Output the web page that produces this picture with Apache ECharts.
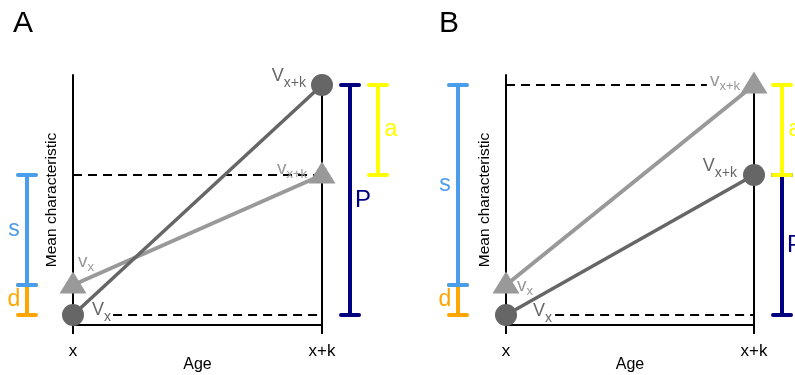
<!DOCTYPE html>
<html><head><meta charset="utf-8">
<script src="https://cdn.jsdelivr.net/npm/echarts@6/dist/echarts.min.js"></script>
<style>html,body{margin:0;padding:0;background:#fff}#c{width:795px;height:375px}</style>
</head><body><div id="c"></div>
<script>
// ---- data ----
const panelNames = ['A', 'B'];
const ages = [0, 1];
const tickLabels = ['x', 'x+k'];
// mean characteristic (arbitrary units) at ages x and x+k
const darkA = [1, 24];   // V  (dark circles)   panel A
const lightA = [4, 15];  // v  (light triangles) panel A
const darkB = [1, 15];   // V  panel B
const lightB = [4, 24];  // v  panel B
const xTitle = 'Age';
const yTitle = 'Mean characteristic';

// ---- layout / style ----
const FONT = 'Liberation Sans, Arial, Helvetica, sans-serif';
const DARK = '#666666', LIGHT = '#999999';
const COL = {s: '#4A9DEB', d: '#FFA500', P: '#000080', a: '#FFFF00'};
const layout = [
  { grid: {left: 73, top: 75, width: 249, height: 250, outerBoundsMode: 'none', containLabel: false}, title: {left: 8, top: 4},
    barX: {s: -0.185, d: -0.185, P: 1.112, a: 1.225},
    dashUp: [0, 0.972], dashLo: [0.161, 0.984],
    lab: { d0: ['right', [3, -5]], d1: ['left', [0, -9]], l0: ['right', [-13.5, -21]], l1: ['left', [3.5, -4]] } },
  { grid: {left: 506, top: 75, width: 248, height: 250, outerBoundsMode: 'none', containLabel: false}, title: {left: 434, top: 4},
    barX: {s: -0.194, d: -0.194, P: 1.113, a: 1.113},
    dashUp: [0, 0.81], dashLo: [0.198, 1.0],
    lab: { d0: ['right', [11, -4]], d1: ['left', [-1, -8.5]], l0: ['right', [-7.5, 3]], l1: ['left', [4.5, -2]] } }
];
const panelData = [{dark: darkA, light: lightA}, {dark: darkB, light: lightB}];

const richDark = {
  V: {fontSize: 18, lineHeight: 18, verticalAlign: 'top', color: DARK, fontFamily: FONT},
  s: {fontSize: 14, lineHeight: 14, padding: [9, 0, 0, 0], verticalAlign: 'top', color: DARK, fontFamily: FONT}
};
const richLight = {
  V: {fontSize: 19, lineHeight: 18, verticalAlign: 'top', color: LIGHT, fontFamily: FONT},
  s: {fontSize: 13, lineHeight: 12, padding: [8, 0, 0, 0], verticalAlign: 'top', color: LIGHT, fontFamily: FONT}
};

const grids = [], xAxes = [], yAxes = [], series = [], titles = [];
panelData.forEach((pd, i) => {
  const L = layout[i];
  const dark = pd.dark, light = pd.light;
  grids.push(L.grid);
  titles.push({text: panelNames[i], left: L.title.left, top: L.title.top,
    textStyle: {fontSize: 30, fontWeight: 'normal', color: '#000', fontFamily: FONT}});
  xAxes.push({gridIndex: i, type: 'value', min: 0, max: 1, interval: 1,
    axisLine: {show: true, onZero: false, lineStyle: {color: '#000', width: 2}},
    axisTick: {show: true, length: 9, lineStyle: {color: '#000', width: 2}},
    splitLine: {show: false},
    axisLabel: {color: '#000', fontSize: 17, fontFamily: FONT, margin: 18,
      showMinLabel: true, showMaxLabel: true,
      formatter: v => tickLabels[ages.indexOf(v)] || ''},
    name: xTitle, nameLocation: 'middle', nameGap: 32, nameMoveOverlap: false,
    nameTextStyle: {color: '#000', fontSize: 16, fontFamily: FONT}});
  yAxes.push({gridIndex: i, type: 'value', min: 0, max: 25,
    axisLine: {show: true, lineStyle: {color: '#000', width: 2}},
    axisTick: {show: false}, axisLabel: {show: false}, splitLine: {show: false},
    name: yTitle, nameLocation: 'middle', nameGap: 13, nameMoveOverlap: false,
    nameTextStyle: {color: '#000', fontSize: 15.5, fontFamily: FONT}});

  const base = {xAxisIndex: i, yAxisIndex: i, silent: true, animation: false, clip: false};
  // right vertical reference line at x+k
  series.push(Object.assign({type: 'line', showSymbol: false,
    data: [[ages[1], 0], [ages[1], Math.max(dark[1], light[1])]],
    lineStyle: {color: '#000', width: 2}}, base));
  // dashed guides
  series.push(Object.assign({type: 'line', showSymbol: false,
    data: [[L.dashUp[0], light[1]], [L.dashUp[1], light[1]]],
    lineStyle: {color: '#000', width: 2, type: [9, 6], opacity: 1}}, base));
  series.push(Object.assign({type: 'line', showSymbol: false,
    data: [[L.dashLo[0], dark[0]], [L.dashLo[1], dark[0]]],
    lineStyle: {color: '#000', width: 2, type: [9, 6], opacity: 1}}, base));
  // trajectories
  series.push(Object.assign({type: 'line', showSymbol: false,
    data: ages.map((a, j) => [a, light[j]]),
    lineStyle: {color: LIGHT, width: 4}}, base));
  series.push(Object.assign({type: 'line', showSymbol: false,
    data: ages.map((a, j) => [a, dark[j]]),
    lineStyle: {color: DARK, width: 3.5}}, base));
  // markers with labels
  const mk = (a, v, key, txt, rich) => ({value: [a, v], label: {show: true, position: L.lab[key][0],
    offset: L.lab[key][1], distance: 5, formatter: txt, rich: rich}});
  series.push(Object.assign({type: 'scatter', symbol: 'triangle', symbolSize: [27, 22], symbolOffset: [0, -2.5],
    itemStyle: {color: LIGHT, opacity: 1}, z: 5,
    data: [mk(ages[0], light[0], 'l0', '{V|v}{s|x}', richLight), mk(ages[1], light[1], 'l1', '{V|v}{s|x+k}', richLight)]}, base));
  series.push(Object.assign({type: 'scatter', symbol: 'circle', symbolSize: 22,
    itemStyle: {color: DARK, opacity: 1}, z: 6,
    data: [mk(ages[0], dark[0], 'd0', '{V|V}{s|x}', richDark), mk(ages[1], dark[1], 'd1', '{V|V}{s|x+k}', richDark)]}, base));
  // range bars: d (V_x..v_x), s (v span), P (V span), a (gap at x+k)
  const bars = [
    {name: 'd', lo: dark[0], hi: light[0], side: -1},
    {name: 's', lo: light[0], hi: light[1], side: -1},
    {name: 'P', lo: dark[0], hi: dark[1], side: 1},
    {name: 'a', lo: Math.min(dark[1], light[1]), hi: Math.max(dark[1], light[1]), side: 1}
  ];
  series.push(Object.assign({type: 'custom', z: 3,
    data: bars.map(b => [L.barX[b.name], b.lo, b.hi]),
    renderItem: function (params, api) {
      const b = bars[params.dataIndex];
      const pLo = api.coord([api.value(0), api.value(1)]);
      const pHi = api.coord([api.value(0), api.value(2)]);
      const cx = Math.round(pLo[0]);
      const c = COL[b.name], h = 9;
      return {type: 'group', children: [
        {type: 'line', shape: {x1: cx, y1: pHi[1], x2: cx, y2: pLo[1]}, style: {stroke: c, lineWidth: 4}},
        {type: 'line', shape: {x1: cx - h, y1: pHi[1], x2: cx + h, y2: pHi[1]}, style: {stroke: c, lineWidth: 4, lineCap: 'round'}},
        {type: 'line', shape: {x1: cx - h, y1: pLo[1], x2: cx + h, y2: pLo[1]}, style: {stroke: c, lineWidth: 4, lineCap: 'round'}},
        {type: 'text', x: cx + b.side * 13, y: (pLo[1] + pHi[1]) / 2,
          style: {text: b.name, fill: c, fontSize: b.name === 'P' ? 24 : 23, fontFamily: FONT, align: 'center', verticalAlign: 'middle'}}
      ]};
    }}, base));
});

const chart = echarts.init(document.getElementById('c'), null, {renderer: 'canvas'});
chart.setOption({animation: false, backgroundColor: '#fff', title: titles,
  grid: grids, xAxis: xAxes, yAxis: yAxes, series: series});
</script></body></html>
